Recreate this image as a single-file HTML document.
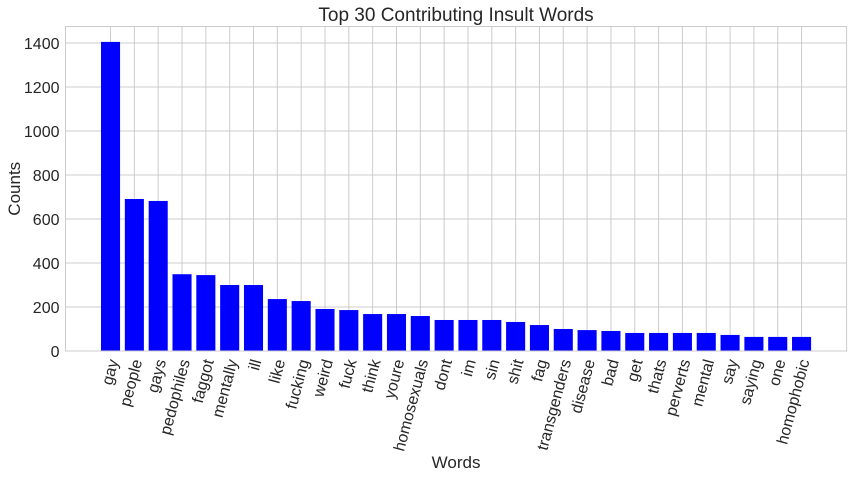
<!DOCTYPE html>
<html><head><meta charset="utf-8"><style>
body{margin:0;background:#fff;font-family:"Liberation Sans",sans-serif;}
svg text{font-family:"Liberation Sans",sans-serif;fill:#262626;}
</style></head><body>
<svg id="chart" width="853" height="476"></svg>
<script>
const categories=["gay","people","gays","pedophiles","faggot","mentally","ill","like","fucking","weird","fuck","think","youre","homosexuals","dont","im","sin","shit","fag","transgenders","disease","bad","get","thats","perverts","mental","say","saying","one","homophobic"];
const counts=[1405,691,682,349,345,300,300,236,227,191,186,168,168,159,141,141,141,132,118,100,95,91,82,82,82,82,73,64,64,64];
const yTicks=[0,200,400,600,800,1000,1200,1400];
const NS="http://www.w3.org/2000/svg";
const svg=document.getElementById('chart');
const L=65.5,R=846.6,T=26.5,B=351;
const ymax=1475, xmin=-1.89, xmax=30.89;
const y=v=>B-(v/ymax)*(B-T);
const x=i=>L+(i-xmin)/(xmax-xmin)*(R-L);
const bw=0.8*(x(1)-x(0));
function mk(tag,attrs){const e=document.createElementNS(NS,tag);for(const k in attrs)e.setAttribute(k,attrs[k]);svg.appendChild(e);return e;}
let bg=mk('rect',{x:L,y:T,width:R-L,height:B-T,fill:'#fff'});


yTicks.forEach(v=>{
 const g=mk('line',{x1:L,x2:R,y1:y(v),y2:y(v),stroke:'#cccccc','stroke-width':1});
 
 
 const t=mk('text',{x:L-6,y:y(v)+6,'text-anchor':'end','font-size':16});
 t.textContent=v;
 
 
});
categories.forEach((c,i)=>{
 const g=mk('line',{x1:x(i),x2:x(i),y1:T,y2:B,stroke:'#cccccc','stroke-width':1});
 
 
});
categories.forEach((c,i)=>{
 const b=mk('rect',{x:x(i)-bw/2,y:y(counts[i]),width:bw,height:B-y(counts[i]),fill:'#0000ff'});
 
 
 const t=mk('text',{x:0,y:0,'text-anchor':'end','font-size':16,transform:`translate(${x(i)+8},${B+10}) rotate(-75)`});
 t.textContent=c;
 
 
});
const fr=mk('rect',{x:L,y:T,width:R-L,height:B-T,fill:'none',stroke:'#cccccc','stroke-width':1});


const ti=mk('text',{x:(L+R)/2,y:21,'text-anchor':'middle','font-size':19});
ti.textContent='Top 30 Contributing Insult Words';


const xl=mk('text',{x:(L+R)/2,y:468,'text-anchor':'middle','font-size':17});
xl.textContent='Words';


const yl=mk('text',{x:0,y:0,'text-anchor':'middle','font-size':17,transform:`translate(20,${(T+B)/2}) rotate(-90)`});
yl.textContent='Counts';


</script>
</body></html>
